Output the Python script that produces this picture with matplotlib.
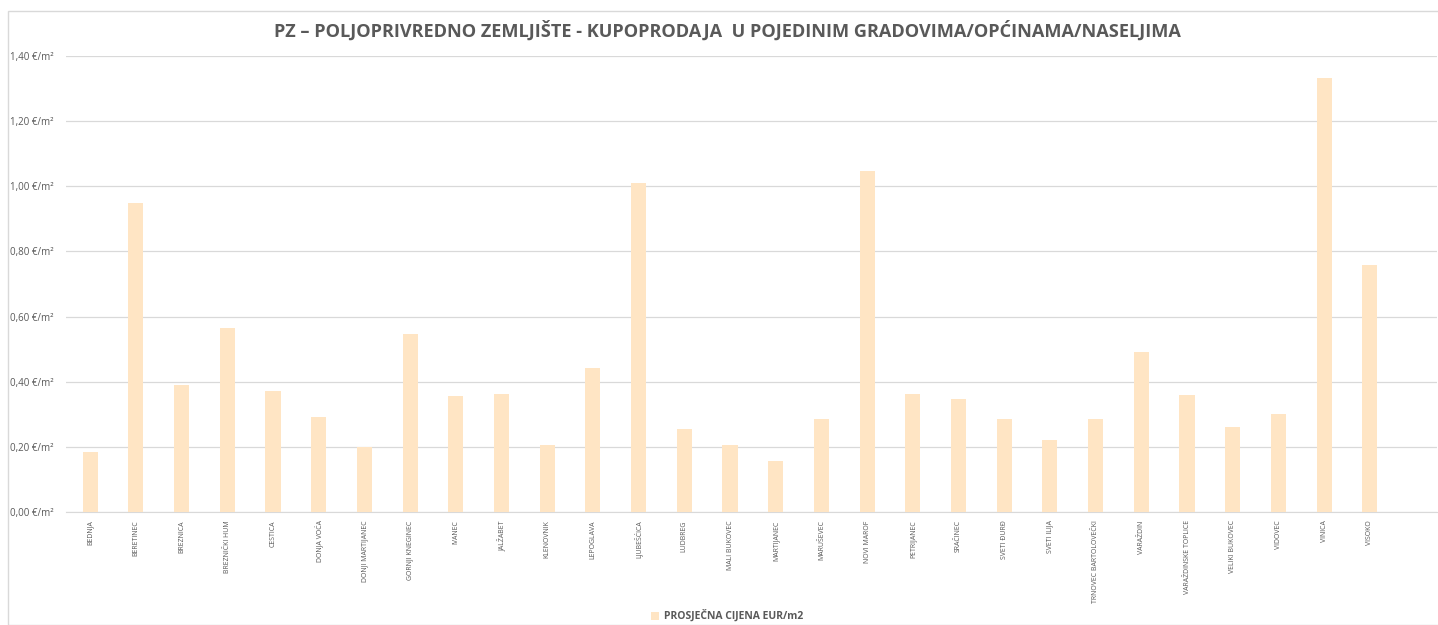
import matplotlib
matplotlib.use("Agg")
import matplotlib.pyplot as plt
from matplotlib.patches import Rectangle, Patch
from matplotlib.ticker import FuncFormatter

categories = ["BEDNJA", "BERETINEC", "BREZNICA", "BREZNIČKI HUM", "CESTICA", "DONJA VOĆA",
              "DONJI MARTIJANEC", "GORNJI KNEGINEC", "IVANEC", "JALŽABET", "KLENOVNIK",
              "LEPOGLAVA", "LJUBEŠĆICA", "LUDBREG", "MALI BUKOVEC", "MARTIJANEC", "MARUŠEVEC",
              "NOVI MAROF", "PETRIJANEC", "SRAČINEC", "SVETI ĐURĐ", "SVETI ILIJA",
              "TRNOVEC BARTOLOVEČKI", "VARAŽDIN", "VARAŽDINSKE TOPLICE", "VELIKI BUKOVEC",
              "VIDOVEC", "VINICA", "VISOKO"]
prices = [0.184, 0.949, 0.390, 0.565, 0.372, 0.292, 0.200, 0.547, 0.356, 0.362, 0.206,
          0.442, 1.010, 0.255, 0.206, 0.157, 0.286, 1.047, 0.362, 0.347, 0.286, 0.221,
          0.286, 0.491, 0.359, 0.261, 0.301, 1.333, 0.758]
series_name = "PROSJEČNA CIJENA EUR/m2"
title = "PZ – POLJOPRIVREDNO ZEMLJIŠTE - KUPOPRODAJA  U POJEDINIM GRADOVIMA/OPĆINAMA/NASELJIMA"
yticks = [0.0, 0.2, 0.4, 0.6, 0.8, 1.0, 1.2, 1.4]

plt.rcParams['font.family'] = ['Liberation Sans Narrow', 'Open Sans', 'DejaVu Sans']
gray = '#595959'
bar_color = '#FFE5C4'

fig = plt.figure(figsize=(14.38, 6.25), dpi=100)
fig.patches.append(Rectangle((8/1438, 0), 1.0, 1 - 11/625, transform=fig.transFigure,
                             fill=False, edgecolor='#D9D9D9', linewidth=1.0))

ax = fig.add_axes([66/1438, 1 - 512/625, (1437 - 66)/1438, (512 - 56)/625])
x = list(range(len(categories)))
ax.bar(x, prices, width=0.33, color=bar_color, zorder=3)
ax.set_xlim(-0.53, len(categories) + 0.47)
ax.set_ylim(0, 1.4)
ax.set_yticks(yticks)
ax.yaxis.set_major_formatter(FuncFormatter(lambda v, p: f"{v:.2f}".replace('.', ',') + " €/m²"))
ax.set_xticks(x)
ax.set_xticklabels(categories, rotation=90, fontsize=5, color=gray, va='top')
ax.tick_params(axis='y', labelsize=7, colors=gray, length=0, pad=9)
ax.tick_params(axis='x', length=0, pad=6)
ax.grid(axis='y', color='#D9D9D9', linewidth=0.9, zorder=0)
for s in ['top', 'right', 'left']:
    ax.spines[s].set_visible(False)
ax.spines['bottom'].set_color('#D9D9D9')

fig.text(727/1438, 1 - 31/625, title, ha='center', va='center', fontsize=13.1,
         fontweight='bold', color=gray)

fig.legend(handles=[Patch(facecolor=bar_color, edgecolor='none', label=series_name)],
           loc='center', bbox_to_anchor=(727/1438, 1 - 616/625), frameon=False,
           prop={'size': 7.5, 'weight': 'bold'}, labelcolor=gray,
           handlelength=0.8, handleheight=0.8, handletextpad=0.5)

fig.savefig("out.png", dpi=100)
